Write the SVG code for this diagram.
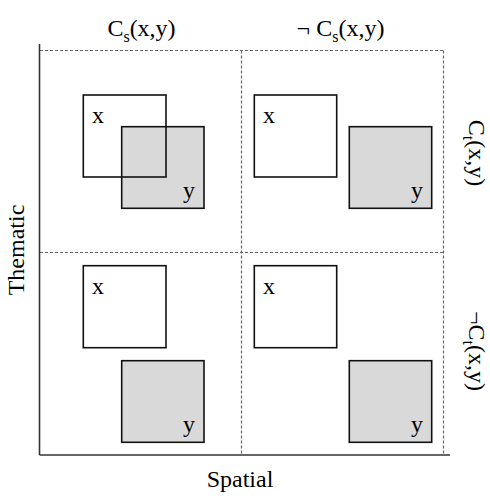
<svg xmlns="http://www.w3.org/2000/svg" width="490" height="503" viewBox="0 0 490 503">
<style>
text{font-family:"Liberation Serif","Times New Roman",serif;font-size:24px;fill:#000}
.sub{font-size:16px}
.box{stroke:#111;stroke-width:1.6}
.xb{fill:none}
.yb{fill:#d9d9d9}
.dash{stroke:#666;stroke-width:1.2;stroke-dasharray:3,2;fill:none}
.axis{stroke:#333;stroke-width:1.6;fill:none}
</style>
<rect width="490" height="503" fill="#fff"/>
<g id="grid">
<line class="dash" x1="40" y1="50.5" x2="443.5" y2="50.5"/>
<line class="dash" x1="443.5" y1="50.5" x2="443.5" y2="455"/>
<line class="dash" x1="241.5" y1="50.5" x2="241.5" y2="455"/>
<line class="dash" x1="40" y1="252.5" x2="443.5" y2="252.5"/>
<line class="axis" x1="39.5" y1="44" x2="39.5" y2="455"/>
<line class="axis" x1="39.5" y1="455" x2="450" y2="455"/>
</g>
<g id="cell-tl">
<rect class="box yb" x="121.7" y="126.7" width="82.3" height="81.6"/>
<rect class="box xb" x="83.3" y="95" width="82.7" height="82"/>
<text x="92" y="123">x</text>
<text x="183" y="198">y</text>
</g>
<g id="cell-tr">
<rect class="box xb" x="254.3" y="95" width="82.4" height="82"/>
<rect class="box yb" x="349.3" y="126.7" width="82.4" height="81.6"/>
<text x="263" y="123">x</text>
<text x="411" y="198">y</text>
</g>
<g id="cell-bl">
<rect class="box xb" x="83.3" y="265.7" width="82.7" height="82"/>
<rect class="box yb" x="121.7" y="360.7" width="82.3" height="81.6"/>
<text x="92" y="294">x</text>
<text x="183" y="432">y</text>
</g>
<g id="cell-br">
<rect class="box xb" x="254.3" y="265.7" width="82.4" height="82"/>
<rect class="box yb" x="349.3" y="360.7" width="82.4" height="81.6"/>
<text x="263" y="294">x</text>
<text x="411" y="432">y</text>
</g>
<g id="labels">
<text x="141.5" y="36" text-anchor="middle">C<tspan class="sub" dy="6">s</tspan><tspan dy="-6">(x,y)</tspan></text>
<text x="340.5" y="36" text-anchor="middle">¬ C<tspan class="sub" dy="6">s</tspan><tspan dy="-6">(x,y)</tspan></text>
<text x="240" y="487" text-anchor="middle">Spatial</text>
<text transform="translate(24,250) rotate(-90)" text-anchor="middle">Thematic</text>
<text transform="translate(469,153) rotate(90)" text-anchor="middle">C<tspan class="sub" dy="6">t</tspan><tspan dy="-6">(x,y)</tspan></text>
<text transform="translate(469,351) rotate(90)" text-anchor="middle">¬C<tspan class="sub" dy="6">t</tspan><tspan dy="-6">(x,y)</tspan></text>
</g>
</svg>
